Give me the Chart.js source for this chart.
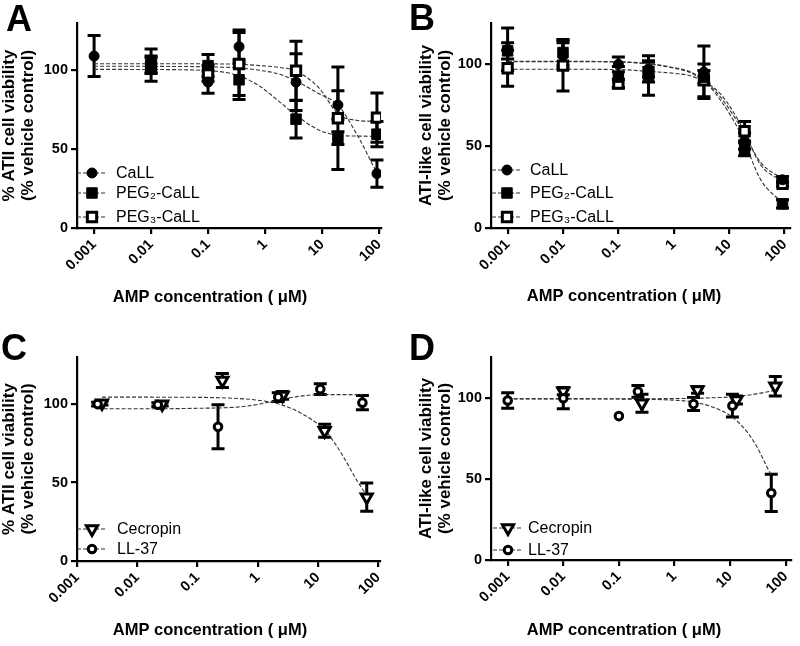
<!DOCTYPE html>
<html><head><meta charset="utf-8">
<script src="https://cdn.jsdelivr.net/npm/chart.js@4/dist/chart.umd.min.js"></script>
<style>
html,body{margin:0;padding:0;background:#fff;}
body{width:800px;height:646px;position:relative;overflow:hidden;}
canvas{position:absolute;}
</style></head>
<body>
<canvas id="cA" width="400" height="323" style="left:0;top:0"></canvas>
<canvas id="cB" width="400" height="323" style="left:400px;top:0"></canvas>
<canvas id="cC" width="400" height="323" style="left:0;top:323px"></canvas>
<canvas id="cD" width="400" height="323" style="left:400px;top:323px"></canvas>
<script>
// ---------- shared tick labels ----------
const xTickValues = [0.001, 0.01, 0.1, 1, 10, 100];
const yTickValues = [0, 50, 100];
const xAxisTitle = 'AMP concentration ( \u03BCM)';
const yTitleATII = ['% ATII cell viability', '(% vehicle control)'];
const yTitleATI = ['ATI-like cell viability', '(% vehicle control)'];
const panelLetters = ['A', 'B', 'C', 'D'];
const seriesNamesAB = ['CaLL', 'PEG\u2082-CaLL', 'PEG\u2083-CaLL'];
const seriesNamesCD = ['Cecropin', 'LL-37'];

// ---------- Panel A: ATII cells, CaLL family ----------
const aCaLLX = [0.001, 0.01, 0.1, 0.35, 3.5, 19, 92];
const aCaLLY = [109, 106, 92.5, 115, 92.5, 78, 34.5];
const aCaLLErr = [13, 7.5, 7, 10.5, 18, 9, 8.7];
const aPeg2X = [0.01, 0.1, 0.35, 3.5, 19, 92];
const aPeg2Y = [101, 103, 94, 69, 57, 59.5];
const aPeg2Err = [8, 7, 12.5, 12, 4, 8];
const aPeg3X = [0.01, 0.1, 0.35, 3.5, 19, 92];
const aPeg3Y = [103, 98, 104, 99.7, 69.6, 70];
const aPeg3Err = [5, 5, 20, 18.8, 32.5, 15.6];
const aFitX = [0.001, 0.01, 0.1, 0.35, 0.8, 1.8, 3.5, 9, 19, 40, 92];
const aCaLLFit = [102.6, 102.5, 102.2, 101.5, 100, 97.5, 93.2, 85, 78, 60, 34.8];
const aPeg2Fit = [100.6, 100.5, 99.8, 96.5, 90, 80, 71.5, 62, 58.8, 58.3, 58.2];
const aPeg3Fit = [104.2, 104.2, 104.1, 103.8, 103, 101.8, 99.5, 88.5, 72.5, 68.3, 67.6];

// ---------- Panel B: ATI-like cells, CaLL family ----------
const bX = [0.001, 0.01, 0.1, 0.35, 3.5, 19, 92];
const bCaLLY = [109, 105, 99.8, 97, 95, 53, 29.4];
const bCaLLErr = [13, 8, 4.5, 5, 16, 5, 2];
const bPeg2Y = [108, 107, 92, 93, 92, 48, 14.7];
const bPeg2Err = [5, 8, 6.5, 12, 4, 4, 2.5];
const bPeg3Y = [97.4, 99, 88, 95, 90, 59, 27];
const bPeg3Err = [11, 15.5, 2.5, 6, 10, 6, 1.5];
const bFitX = [0.001, 0.01, 0.1, 0.35, 1, 1.9, 3.7, 7.3, 16.5, 37, 92];
const bCaLLFit = [101.6, 101.6, 101.4, 100.2, 97.8, 95.5, 89.5, 79, 61, 40, 30];
const bPeg2Fit = [101.4, 101.4, 101.2, 100, 97.5, 95, 89, 77, 57, 29.5, 15.2];
const bPeg3Fit = [96.8, 96.8, 96.6, 95.5, 94.3, 93, 89, 81, 62.5, 38.5, 28.3];

// ---------- Panel C: ATII cells, Cecropin / LL-37 ----------
const cCecX = [0.0026, 0.026, 0.26, 2.6, 13, 65];
const cCecY = [100.6, 100, 115, 105.5, 83, 40.7];
const cCecErr = [1.2, 1.2, 4.5, 2.5, 4.2, 9];
const cLLX = [0.0022, 0.022, 0.22, 2.2, 11, 55];
const cLLY = [100, 99.6, 85.5, 104.4, 109.5, 100.9];
const cLLErr = [1.2, 1.2, 14, 2.8, 3.4, 4.5];
const cCecFitX = [0.0026, 0.01, 0.1, 0.5, 1, 2, 4, 8, 13, 20, 30, 45, 65];
const cCecFit = [104.4, 104.4, 104.3, 103.5, 102.5, 100.5, 96.5, 90, 83.5, 74, 63, 51, 42];
const cLLFitX = [0.0022, 0.01, 0.1, 0.5, 1, 2.2, 5, 11, 25, 55];
const cLLFit = [97, 97, 97.3, 98.2, 99.8, 102.5, 105, 106, 106, 106];

// ---------- Panel D: ATI-like cells, Cecropin / LL-37 ----------
const dCecX = [0.01, 0.26, 2.6, 13, 65];
const dCecY = [104, 96.5, 104.7, 98.5, 107];
const dCecErr = [2.2, 5.5, 2, 2.5, 6];
const dLLX = [0.001, 0.01, 0.1, 0.22, 2.2, 11, 55];
const dLLY = [98.2, 99.6, 88.6, 103.8, 96, 95, 41.3];
const dLLErr = [4.8, 6.5, 0, 3.6, 4, 7, 11.5];
const dCecFitX = [0.001, 0.01, 0.1, 1, 2.6, 5, 13, 30, 65];
const dCecFit = [99.3, 99.3, 99.3, 99.4, 99.6, 99.9, 100.6, 102.3, 104.5];
const dLLFitX = [0.001, 0.01, 0.1, 0.5, 1, 2.2, 5, 11, 20, 30, 45, 55];
const dLLFit = [99.2, 99.2, 99.1, 98.8, 98.4, 97.3, 94, 88, 79, 70, 58, 52];

// ---------- styles ----------
const FONT = '"Liberation Sans", Arial, Helvetica, sans-serif';
const INK = '#000';
const STY = {
  CaLL: {shape: 'circle', r: 5, bw: 1, fill: '#000', rot: 0},
  PEG2: {shape: 'rect', r: 7.4, bw: 1, fill: '#000', rot: 0},
  PEG3: {shape: 'rect', r: 6.6, bw: 3, fill: '#fff', rot: 0},
  Cec:  {shape: 'triangle', r: 6.4, bw: 3, fill: '#fff', rot: 180},
  LL:   {shape: 'circle', r: 3.8, bw: 3, fill: '#fff', rot: 0}
};

Chart.defaults.font.family = FONT;
Chart.defaults.color = INK;

function pts(xs, ys) { return xs.map((x, i) => ({x: x, y: ys[i]})); }

function fitSet(xs, ys) {
  return {type: 'line', data: pts(xs, ys), showLine: true, borderColor: '#333', borderWidth: 1.1,
    borderDash: [4, 2], pointRadius: 0, fill: false, cubicInterpolationMode: 'monotone', order: 3};
}
function pointSet(label, xs, ys, errs, s) {
  return {type: 'scatter', label: label, data: pts(xs, ys), errorBars: errs, showLine: false,
    pointStyle: s.shape, pointRotation: s.rot, pointRadius: s.r, pointHoverRadius: s.r,
    pointBorderWidth: s.bw, pointBackgroundColor: s.fill, pointBorderColor: INK, order: 1};
}

function drawMarker(ctx, s, x, y) {
  ctx.save();
  ctx.lineWidth = s.bw; ctx.fillStyle = s.fill; ctx.strokeStyle = INK;
  ctx.beginPath();
  if (s.shape === 'circle') {
    ctx.arc(x, y, s.r, 0, Math.PI * 2);
  } else if (s.shape === 'rect') {
    const h = s.r * Math.SQRT1_2; ctx.rect(x - h, y - h, 2 * h, 2 * h);
  } else {
    const r = s.r;
    ctx.moveTo(x, y + r); ctx.lineTo(x - r * 0.866, y - r / 2); ctx.lineTo(x + r * 0.866, y - r / 2); ctx.closePath();
  }
  ctx.fill(); ctx.stroke(); ctx.restore();
}

const decor = {
  id: 'decor',
  beforeDatasetsDraw(chart) {
    const ctx = chart.ctx, xs = chart.scales.x, ys = chart.scales.y;
    ctx.save();
    ctx.strokeStyle = INK; ctx.lineWidth = 3; ctx.lineCap = 'butt';
    chart.data.datasets.forEach((ds) => {
      if (!ds.errorBars) return;
      ds.data.forEach((p, j) => {
        const e = ds.errorBars[j]; if (!e) return;
        const px = xs.getPixelForValue(p.x);
        const y1 = ys.getPixelForValue(p.y + e), y2 = ys.getPixelForValue(p.y - e);
        ctx.beginPath();
        ctx.moveTo(px, y1); ctx.lineTo(px, y2);
        ctx.moveTo(px - 6.5, y1); ctx.lineTo(px + 6.5, y1);
        ctx.moveTo(px - 6.5, y2); ctx.lineTo(px + 6.5, y2);
        ctx.stroke();
      });
    });
    ctx.restore();
  },
  afterDraw(chart, args, o) {
    const ctx = chart.ctx;
    ctx.save();
    ctx.fillStyle = INK;
    // panel letter
    ctx.font = 'bold 36px ' + FONT;
    ctx.textAlign = 'left'; ctx.textBaseline = 'alphabetic';
    ctx.fillText(o.letter, o.letterX, o.letterY);
    // x-axis title
    ctx.font = 'bold 16.5px ' + FONT;
    ctx.textAlign = 'center';
    ctx.fillText(xAxisTitle, o.xTitleX, o.xTitleY);
    // inner legend
    ctx.font = '16px ' + FONT;
    ctx.textAlign = 'left'; ctx.textBaseline = 'middle';
    o.items.forEach((it, k) => {
      const y = o.legendY[k];
      ctx.save();
      ctx.strokeStyle = '#333'; ctx.lineWidth = 1.1; ctx.setLineDash([4, 2]);
      ctx.beginPath(); ctx.moveTo(o.legendX - 15, y); ctx.lineTo(o.legendX + 15, y); ctx.stroke();
      ctx.restore();
      drawMarker(ctx, it.style, o.legendX, y);
      ctx.fillStyle = INK;
      ctx.fillText(it.label, o.legendTextX, y + 1);
    });
    ctx.restore();
  }
};

function makePanel(id, p) {
  return new Chart(document.getElementById(id), {
    type: 'scatter',
    data: {datasets: p.datasets},
    plugins: [decor],
    options: {
      responsive: false, animation: false, events: [],
      layout: {padding: {top: p.padTop, right: p.padRight, left: 0, bottom: 0}},
      plugins: {legend: {display: false}, tooltip: {enabled: false}, decor: p.decor},
      scales: {
        x: {
          type: 'logarithmic', position: 'bottom', min: p.xMin, max: p.xMax,
          afterBuildTicks: (s) => { s.ticks = xTickValues.map(v => ({value: v})); },
          afterFit: (s) => { s.height = p.xH; s.paddingLeft = 0; s.paddingRight = 0; },
          ticks: {autoSkip: false, minRotation: 45, maxRotation: 45, padding: 2, color: INK,
            font: {size: 14.5, weight: 'bold'}, callback: (v) => String(v)},
          grid: {display: true, drawOnChartArea: false, drawTicks: true, tickLength: 6, color: INK, lineWidth: 2.2},
          border: {display: true, color: INK, width: 2.2},
          title: {display: false}
        },
        y: {
          type: 'linear', position: 'left', min: 0, max: p.yMax,
          afterBuildTicks: (s) => { s.ticks = yTickValues.map(v => ({value: v})); },
          afterFit: (s) => { s.width = p.yW; s.paddingTop = 0; s.paddingBottom = 0; },
          ticks: {padding: 3, color: INK, font: {size: 14.5, weight: 'bold'}},
          grid: {display: true, drawOnChartArea: false, drawTicks: true, tickLength: 6, color: INK, lineWidth: 2.2},
          border: {display: true, color: INK, width: 2.2},
          title: {display: true, text: p.yTitle, color: INK, padding: {top: p.yTitlePad, bottom: 0},
            font: {size: 17, weight: 'bold', lineHeight: 1.12}}
        }
      }
    }
  });
}

const legAB = [
  {label: seriesNamesAB[0], style: STY.CaLL},
  {label: seriesNamesAB[1], style: STY.PEG2},
  {label: seriesNamesAB[2], style: STY.PEG3}
];
const legCD = [
  {label: seriesNamesCD[0], style: STY.Cec},
  {label: seriesNamesCD[1], style: STY.LL}
];

makePanel('cA', {
  datasets: [
    fitSet(aFitX, aCaLLFit), fitSet(aFitX, aPeg2Fit), fitSet(aFitX, aPeg3Fit),
    pointSet(seriesNamesAB[0], aCaLLX, aCaLLY, aCaLLErr, STY.CaLL),
    pointSet(seriesNamesAB[1], aPeg2X, aPeg2Y, aPeg2Err, STY.PEG2),
    pointSet(seriesNamesAB[2], aPeg3X, aPeg3Y, aPeg3Err, STY.PEG3)
  ],
  padTop: 23, padRight: 19, xH: 95, yW: 77, yMax: 130, yTitlePad: 0,
  xMin: Math.pow(10, -3.3), xMax: Math.pow(10, 2.035), yTitle: yTitleATII,
  decor: {letter: panelLetters[0], letterX: 6, letterY: 31, xTitleX: 210, xTitleY: 302,
    items: legAB, legendX: 92, legendTextX: 116, legendY: [173, 193, 217]}
});
makePanel('cB', {
  datasets: [
    fitSet(bFitX, bCaLLFit), fitSet(bFitX, bPeg2Fit), fitSet(bFitX, bPeg3Fit),
    pointSet(seriesNamesAB[0], bX, bCaLLY, bCaLLErr, STY.CaLL),
    pointSet(seriesNamesAB[1], bX, bPeg2Y, bPeg2Err, STY.PEG2),
    pointSet(seriesNamesAB[2], bX, bPeg3Y, bPeg3Err, STY.PEG3)
  ],
  padTop: 23, padRight: 3, xH: 95, yW: 91, yMax: 125, yTitlePad: 17,
  xMin: Math.pow(10, -3.3), xMax: Math.pow(10, 2.106), yTitle: yTitleATI,
  decor: {letter: panelLetters[1], letterX: 9, letterY: 30, xTitleX: 224, xTitleY: 301,
    items: legAB, legendX: 107, legendTextX: 130, legendY: [170, 193, 217]}
});
makePanel('cC', {
  datasets: [
    fitSet(cCecFitX, cCecFit), fitSet(cLLFitX, cLLFit),
    pointSet(seriesNamesCD[1], cLLX, cLLY, cLLErr, STY.LL),
    pointSet(seriesNamesCD[0], cCecX, cCecY, cCecErr, STY.Cec)
  ],
  padTop: 34, padRight: 20, xH: 85, yW: 77, yMax: 130, yTitlePad: 0,
  xMin: 0.001, xMax: Math.pow(10, 2.033), yTitle: yTitleATII,
  decor: {letter: panelLetters[2], letterX: 1, letterY: 37, xTitleX: 210, xTitleY: 312,
    items: legCD, legendX: 92, legendTextX: 117, legendY: [206, 226]}
});
makePanel('cD', {
  datasets: [
    fitSet(dCecFitX, dCecFit), fitSet(dLLFitX, dLLFit),
    pointSet(seriesNamesCD[1], dLLX, dLLY, dLLErr, STY.LL),
    pointSet(seriesNamesCD[0], dCecX, dCecY, dCecErr, STY.Cec)
  ],
  padTop: 34, padRight: 3, xH: 86, yW: 91, yMax: 125, yTitlePad: 17,
  xMin: Math.pow(10, -3.3), xMax: Math.pow(10, 2.088), yTitle: yTitleATI,
  decor: {letter: panelLetters[3], letterX: 9, letterY: 37, xTitleX: 224, xTitleY: 312,
    items: legCD, legendX: 108, legendTextX: 128, legendY: [205, 227]}
});
</script>
</body></html>
